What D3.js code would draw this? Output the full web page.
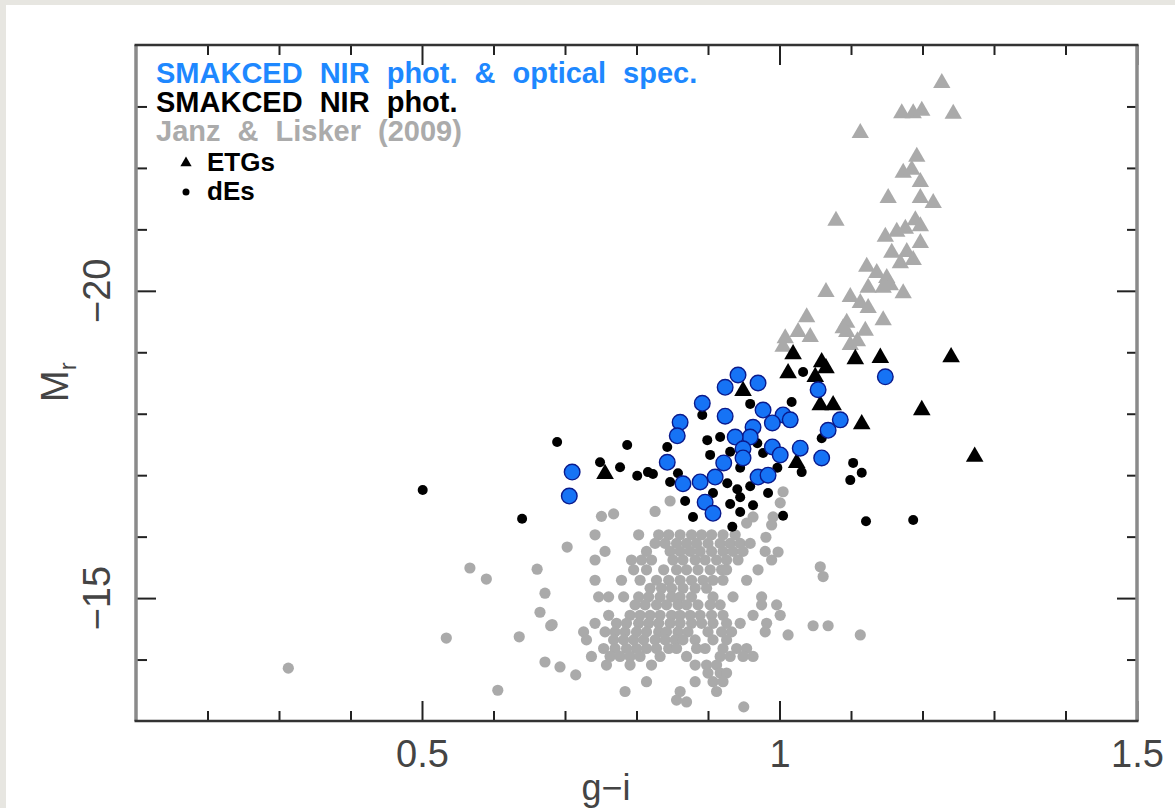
<!DOCTYPE html>
<html>
<head>
<meta charset="utf-8">
<script src="https://cdn.jsdelivr.net/npm/d3@7"></script>
<style>
  html, body { margin: 0; padding: 0; background: #e7e6e1; }
  svg { display: block; }
  text { font-family: "Liberation Sans", Arial, sans-serif; }
</style>
</head>
<body>
<div id="container"></div>
<script>
// DATA  [g-i, M_r]
// Janz & Lisker (2009) dEs
const jlDEs = [
  // outskirts
  [0.313,-13.86],[0.534,-14.35],[0.567,-15.49],[0.590,-15.31],[0.606,-13.50],[0.636,-14.37],
  [0.661,-15.47],[0.672,-15.08],[0.665,-14.77],[0.680,-14.55],[0.703,-15.83],[0.672,-13.96],
  [0.693,-13.88],[0.715,-13.75],[0.682,-14.57],[0.950,-13.23],[0.870,-13.31],
  [1.001,-14.72],[1.012,-14.40],[1.047,-14.55],[1.068,-14.55],[1.113,-14.40],[1.057,-15.51],
  [1.061,-15.35],[1.005,-16.73],[1.001,-16.55],[0.847,-16.58],[0.991,-16.32],[0.963,-16.32],
  [0.981,-15.99],[0.998,-15.75],[0.989,-16.19],[0.954,-16.22],[0.751,-16.33],[0.768,-16.37],
  [0.826,-16.41],
  // main clump, row by row
  [0.742,-16.03],[0.803,-16.03],[0.831,-16.03],[0.845,-16.03],[0.861,-16.03],[0.877,-16.03],
  [0.891,-16.03],[0.905,-16.03],[0.921,-16.03],[0.938,-16.03],
  [0.826,-15.89],[0.840,-15.89],[0.856,-15.89],[0.870,-15.89],[0.884,-15.89],[0.900,-15.89],
  [0.917,-15.89],[0.931,-15.89],[0.945,-15.89],[0.959,-15.89],
  [0.756,-15.76],[0.814,-15.76],[0.847,-15.76],[0.861,-15.76],[0.875,-15.76],[0.889,-15.76],
  [0.905,-15.76],[0.921,-15.76],[0.935,-15.76],[0.949,-15.76],[0.980,-15.76],
  [0.742,-15.62],[0.793,-15.62],[0.807,-15.62],[0.821,-15.62],[0.851,-15.62],[0.865,-15.62],
  [0.882,-15.62],[0.896,-15.62],[0.912,-15.62],[0.926,-15.62],[0.942,-15.62],[0.989,-15.62],
  [0.796,-15.46],[0.814,-15.46],[0.838,-15.46],[0.856,-15.46],[0.870,-15.46],[0.886,-15.46],
  [0.903,-15.46],[0.919,-15.46],[0.926,-15.46],[0.970,-15.46],
  [0.742,-15.29],[0.779,-15.29],[0.805,-15.29],[0.828,-15.29],[0.845,-15.29],[0.861,-15.29],
  [0.877,-15.29],[0.893,-15.29],[0.907,-15.29],[0.921,-15.29],[0.954,-15.29],
  [0.819,-15.16],[0.835,-15.16],[0.849,-15.16],[0.865,-15.16],[0.882,-15.16],[0.898,-15.16],
  [0.747,-15.02],[0.761,-15.02],[0.782,-15.02],[0.803,-15.02],[0.817,-15.02],[0.833,-15.02],
  [0.849,-15.02],[0.861,-15.02],[0.877,-15.02],[0.907,-15.02],[0.935,-15.02],[0.975,-15.02],
  [0.798,-14.89],[0.812,-14.89],[0.828,-14.89],[0.842,-14.89],[0.858,-14.89],[0.870,-14.89],
  [0.886,-14.89],[0.903,-14.89],[0.917,-14.89],[0.975,-14.89],[0.996,-14.89],
  [0.761,-14.72],[0.791,-14.72],[0.805,-14.72],[0.819,-14.72],[0.833,-14.72],[0.849,-14.72],
  [0.861,-14.72],[0.875,-14.72],[0.889,-14.72],[0.905,-14.72],[0.921,-14.72],[0.963,-14.72],
  [0.742,-14.59],[0.772,-14.59],[0.786,-14.59],[0.803,-14.59],[0.817,-14.59],[0.831,-14.59],
  [0.847,-14.59],[0.861,-14.59],[0.877,-14.59],[0.891,-14.59],[0.907,-14.59],[0.926,-14.59],
  [0.945,-14.59],[0.982,-14.59],
  [0.726,-14.45],[0.756,-14.45],[0.770,-14.45],[0.784,-14.45],[0.800,-14.45],[0.814,-14.45],
  [0.831,-14.45],[0.842,-14.45],[0.858,-14.45],[0.872,-14.45],[0.900,-14.45],[0.919,-14.45],
  [0.933,-14.45],[0.980,-14.45],
  [0.730,-14.32],[0.768,-14.32],[0.782,-14.32],[0.796,-14.32],[0.810,-14.32],[0.826,-14.32],
  [0.840,-14.32],[0.854,-14.32],[0.865,-14.32],[0.882,-14.32],[0.907,-14.32],[0.926,-14.32],
  [0.754,-14.18],[0.770,-14.18],[0.786,-14.18],[0.800,-14.18],[0.814,-14.18],[0.828,-14.18],
  [0.845,-14.18],[0.856,-14.18],[0.884,-14.18],[0.896,-14.18],[0.921,-14.18],[0.940,-14.18],
  [0.954,-14.18],
  [0.737,-14.05],[0.763,-14.05],[0.777,-14.05],[0.791,-14.05],[0.805,-14.05],[0.833,-14.05],
  [0.870,-14.05],[0.917,-14.05],[0.931,-14.05],[0.949,-14.05],[0.963,-14.05],
  [0.758,-13.91],[0.791,-13.91],[0.821,-13.91],[0.882,-13.91],[0.898,-13.91],[0.912,-13.91],
  [0.900,-13.78],[0.917,-13.78],[0.926,-13.78],
  [0.814,-13.64],[0.882,-13.64],[0.907,-13.64],[0.921,-13.64],
  [0.784,-13.48],[0.861,-13.48],[0.912,-13.48],
  [0.856,-13.34]
];

// Janz & Lisker (2009) ETGs
const jlETGs = [
  [1.227,-23.38],[1.171,-22.89],[1.187,-22.89],[1.199,-22.93],[1.243,-22.88],[1.113,-22.57],
  [1.192,-22.18],[1.173,-21.92],[1.185,-21.97],[1.197,-21.77],[1.152,-21.51],[1.197,-21.51],
  [1.215,-21.43],[1.079,-21.14],[1.190,-21.15],[1.197,-21.05],[1.148,-20.88],[1.164,-20.96],
  [1.176,-21.01],[1.197,-20.78],[1.157,-20.62],[1.178,-20.63],[1.169,-20.45],[1.187,-20.50],
  [1.122,-20.39],[1.136,-20.29],[1.150,-20.21],[1.155,-20.09],[1.124,-20.05],[1.145,-20.05],
  [1.173,-19.96],[1.065,-19.98],[1.099,-19.90],[1.113,-19.80],[1.124,-19.72],[1.038,-19.57],
  [1.094,-19.48],[1.145,-19.52],[1.094,-19.33],[1.120,-19.35],[1.026,-19.33],[1.043,-19.25],
  [1.008,-19.23],[1.005,-19.09],[1.099,-19.12],[1.109,-19.18],[1.089,-19.39]
];

// SMAKCED NIR phot. dEs
const smDEs = [
  [0.689,-17.54],[0.787,-17.49],[0.749,-17.21],[0.777,-17.13],[0.801,-16.99],[0.816,-17.05],
  [0.823,-17.02],[0.843,-17.46],[0.899,-17.57],[0.917,-17.62],[0.959,-18.16],[0.892,-17.98],
  [1.017,-18.19],[1.033,-18.68],[0.858,-17.03],[0.847,-16.89],[0.868,-16.58],[0.879,-16.32],
  [0.907,-16.71],[0.927,-16.87],[0.941,-16.77],[0.945,-16.64],[0.959,-16.82],[0.931,-16.53],
  [0.963,-16.51],[0.945,-16.40],[0.984,-16.71],[1.005,-16.34],[0.934,-16.16],[0.977,-17.36],
  [0.997,-17.12],[0.969,-17.52],[0.931,-17.38],[1.103,-17.20],[1.115,-17.04],[1.099,-16.92],
  [1.059,-17.60],[1.031,-17.05],[1.121,-16.25],[1.187,-16.27],[0.640,-16.29],[0.501,-16.76],
  [0.945,-17.12],[0.903,-17.33]
];

// SMAKCED NIR phot. ETGs
const smETGs = [
  [0.756,-17.02],[1.019,-18.97],[1.059,-18.84],[1.106,-18.89],[1.141,-18.91],[1.240,-18.92],
  [1.012,-18.66],[1.050,-18.60],[0.949,-18.37],[1.057,-18.14],[1.075,-18.14],[1.115,-17.83],
  [1.199,-18.06],[1.273,-17.30],[1.024,-17.20],[1.065,-18.74]
];

// SMAKCED NIR phot. & optical spec.
const smSpec = [
  [0.942,-18.63],[0.924,-18.43],[0.970,-18.50],[0.892,-18.17],[0.924,-17.96],[0.861,-17.86],
  [0.857,-17.64],[0.977,-18.06],[1.005,-17.98],[1.015,-17.90],[0.990,-17.85],[0.963,-17.78],
  [0.959,-17.62],[0.938,-17.62],[0.949,-17.43],[0.990,-17.46],[1.001,-17.33],[1.029,-17.44],
  [1.059,-17.28],[1.054,-18.39],[1.085,-17.90],[1.068,-17.73],[1.148,-18.60],[0.843,-17.21],
  [0.922,-17.20],[0.910,-16.97],[0.889,-16.89],[0.865,-16.86],[0.970,-16.97],[0.984,-17.00],
  [0.896,-16.56],[0.907,-16.38],[0.710,-17.05],[0.706,-16.66],[0.949,-17.28]
];

const xMajor = [0.5, 1, 1.5];
const xMinor = [0.2, 0.3, 0.4, 0.6, 0.7, 0.8, 0.9, 1.1, 1.2, 1.3, 1.4];
const yMajor = [-20, -15];
const yMinor = [-23, -22, -21, -19, -18, -17, -16, -14];

const legendLines = [
  { text: "SMAKCED NIR phot. & optical spec.", color: "#1e88ff" },
  { text: "SMAKCED NIR phot.", color: "#000000" },
  { text: "Janz & Lisker (2009)", color: "#ababab" }
];

// LAYOUT
const W = 1175, H = 808;
const plot = { left: 136, right: 1137, top: 45, bottom: 721 };

const x = d3.scaleLinear().domain([0.1, 1.5]).range([plot.left, plot.right]);
const y = d3.scaleLinear().domain([-13, -24]).range([plot.bottom, plot.top]);

const svg = d3.select("#container").append("svg")
  .attr("width", W)
  .attr("height", H);

svg.append("rect").attr("width", W).attr("height", H).attr("fill", "#e7e6e1");
svg.append("rect").attr("x", 6).attr("y", 5).attr("width", W).attr("height", H).attr("fill", "#ffffff");

const fmt = d => (d < 0 ? "\u2212" : "") + Math.abs(d);

// POINTS
const tri = d3.symbol().type(d3.symbolTriangle);

svg.append("g").selectAll("circle")
  .data(jlDEs).enter().append("circle")
  .attr("cx", d => x(d[0])).attr("cy", d => y(d[1]))
  .attr("r", 5.6).attr("fill", "#aaaaaa");

svg.append("g").selectAll("path")
  .data(jlETGs).enter().append("path")
  .attr("d", tri.size(130))
  .attr("transform", d => `translate(${x(d[0])},${y(d[1])})`)
  .attr("fill", "#aaaaaa");

svg.append("g").selectAll("circle")
  .data(smDEs).enter().append("circle")
  .attr("cx", d => x(d[0])).attr("cy", d => y(d[1]))
  .attr("r", 5).attr("fill", "#000000");

svg.append("g").selectAll("path")
  .data(smETGs).enter().append("path")
  .attr("d", tri.size(135))
  .attr("transform", d => `translate(${x(d[0])},${y(d[1])})`)
  .attr("fill", "#000000");

svg.append("g").selectAll("circle")
  .data(smSpec).enter().append("circle")
  .attr("cx", d => x(d[0])).attr("cy", d => y(d[1]))
  .attr("r", 7.8).attr("fill", "#1673f5")
  .attr("stroke", "#0a1a8c").attr("stroke-width", 1.4);

// AXES (ticks pointing inward on all four sides)
function styleAxis(g) {
  g.select(".domain").remove();
  g.selectAll(".tick line").attr("stroke", "#222").attr("stroke-width", 2);
}

svg.append("g").attr("transform", `translate(0,${plot.bottom})`)
  .call(d3.axisBottom(x).tickValues(xMinor).tickSize(-10).tickFormat(""))
  .call(styleAxis);
svg.append("g").attr("transform", `translate(0,${plot.bottom})`)
  .call(d3.axisBottom(x).tickValues(xMajor).tickSizeInner(-20).tickSizeOuter(0)
    .tickPadding(19).tickFormat(d => d))
  .call(styleAxis)
  .selectAll("text")
  .attr("font-size", 38).attr("fill", "#444");

svg.append("g").attr("transform", `translate(0,${plot.top})`)
  .call(d3.axisTop(x).tickValues(xMinor).tickSize(-10).tickFormat(""))
  .call(styleAxis);
svg.append("g").attr("transform", `translate(0,${plot.top})`)
  .call(d3.axisTop(x).tickValues(xMajor).tickSize(-20).tickFormat(""))
  .call(styleAxis);

svg.append("g").attr("transform", `translate(${plot.left},0)`)
  .call(d3.axisLeft(y).tickValues(yMinor).tickSize(-11).tickFormat(""))
  .call(styleAxis);
svg.append("g").attr("transform", `translate(${plot.left},0)`)
  .call(d3.axisLeft(y).tickValues(yMajor).tickSize(-20).tickFormat(""))
  .call(styleAxis);

svg.append("g").attr("transform", `translate(${plot.right},0)`)
  .call(d3.axisRight(y).tickValues(yMinor).tickSize(-10).tickFormat(""))
  .call(styleAxis);
svg.append("g").attr("transform", `translate(${plot.right},0)`)
  .call(d3.axisRight(y).tickValues(yMajor).tickSize(-20).tickFormat(""))
  .call(styleAxis);

// y tick labels, rotated
svg.append("g").selectAll("text")
  .data(yMajor).enter().append("text")
  .attr("transform", d => `translate(110,${y(d)}) rotate(-90)`)
  .attr("text-anchor", "middle")
  .attr("font-size", 38).attr("fill", "#444")
  .text(fmt);

// frame
svg.append("line").attr("x1", plot.left).attr("x2", plot.left)
  .attr("y1", plot.top).attr("y2", plot.bottom)
  .attr("stroke", "#8a8a8a").attr("stroke-width", 3.5);
svg.append("line").attr("x1", plot.right).attr("x2", plot.right)
  .attr("y1", plot.top).attr("y2", plot.bottom)
  .attr("stroke", "#8a8a8a").attr("stroke-width", 3.5);
svg.append("line").attr("x1", plot.left - 1.5).attr("x2", plot.right + 1.5)
  .attr("y1", plot.top).attr("y2", plot.top)
  .attr("stroke", "#333").attr("stroke-width", 2.5);
svg.append("line").attr("x1", plot.left - 1.5).attr("x2", plot.right + 1.5)
  .attr("y1", plot.bottom).attr("y2", plot.bottom)
  .attr("stroke", "#333").attr("stroke-width", 2.5);

// axis titles
svg.append("text")
  .attr("x", 606).attr("y", 800)
  .attr("text-anchor", "middle")
  .attr("font-size", 36).attr("fill", "#444")
  .text("g\u2212i");

const yTitle = svg.append("text")
  .attr("transform", "translate(68,402) rotate(-90)")
  .attr("font-size", 38).attr("fill", "#444");
yTitle.append("tspan").text("M");
yTitle.append("tspan").attr("font-size", 24).attr("dy", 8).text("r");

// LEGEND
svg.append("g").selectAll("text")
  .data(legendLines).enter().append("text")
  .attr("x", 156)
  .attr("y", (d, i) => 83 + i * 29)
  .attr("font-size", 29).attr("font-weight", "bold")
  .attr("word-spacing", 9)
  .attr("fill", d => d.color)
  .text(d => d.text);

svg.append("path")
  .attr("d", d3.symbol().type(d3.symbolTriangle).size(55)())
  .attr("transform", "translate(186,163)")
  .attr("fill", "#000");
svg.append("text").attr("x", 207).attr("y", 171)
  .attr("font-size", 26).attr("font-weight", "bold")
  .text("ETGs");
svg.append("circle").attr("cx", 186).attr("cy", 192).attr("r", 3.5).attr("fill", "#000");
svg.append("text").attr("x", 207).attr("y", 200)
  .attr("font-size", 26).attr("font-weight", "bold")
  .text("dEs");
</script>
</body>
</html>
